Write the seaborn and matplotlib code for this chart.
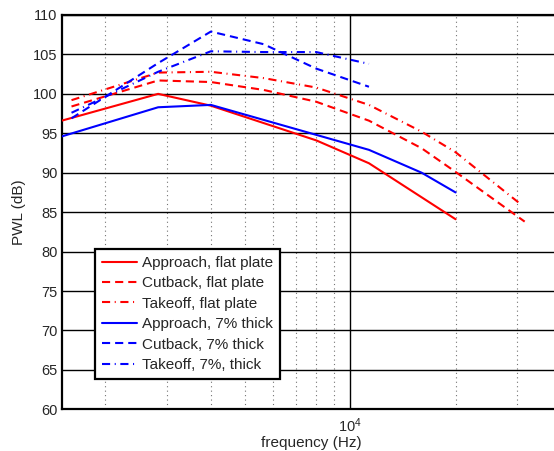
import numpy as np
import pandas as pd
import matplotlib
matplotlib.use("Agg")
import matplotlib.pyplot as plt
import seaborn as sns
from matplotlib.ticker import FixedLocator, NullFormatter

sns.set_style("white")
plt.rcParams['font.family'] = ['Liberation Sans', 'DejaVu Sans']
plt.rcParams['mathtext.fontset'] = 'custom'
plt.rcParams['mathtext.rm'] = 'Liberation Sans'
plt.rcParams['mathtext.it'] = 'Liberation Sans:italic'

# ---- data ----
approach_flat_f = [1500, 2828, 4000, 8000, 11314, 20000]
approach_flat_v = [96.6, 100.0, 98.5, 94.1, 91.2, 84.1]

cutback_flat_f = [1600, 2828, 4000, 5657, 8000, 11314, 16000, 20000, 31500]
cutback_flat_v = [98.4, 101.7, 101.5, 100.5, 99.0, 96.6, 93.1, 90.1, 83.8]

takeoff_flat_f = [1600, 2828, 4000, 5657, 8000, 11314, 16000, 20000, 30500]
takeoff_flat_v = [99.2, 102.7, 102.8, 102.0, 100.8, 98.6, 95.2, 92.6, 86.1]

approach_thick_f = [1500, 2828, 4000, 11314, 16000, 20000]
approach_thick_v = [94.6, 98.3, 98.6, 92.9, 90.0, 87.5]

cutback_thick_f = [1600, 2828, 4000, 5657, 8000, 11314]
cutback_thick_v = [96.9, 103.9, 107.9, 106.3, 103.2, 100.9]

takeoff_thick_f = [1600, 2828, 4000, 5657, 8000, 11314]
takeoff_thick_v = [97.6, 102.8, 105.4, 105.3, 105.3, 103.8]

labels = ["Approach, flat plate", "Cutback, flat plate", "Takeoff, flat plate",
          "Approach, 7% thick", "Cutback, 7% thick", "Takeoff, 7%, thick"]
colors = ["#ff0000", "#ff0000", "#ff0000", "#0000ff", "#0000ff", "#0000ff"]
styles = ["-", (0, (3.9, 2.4)), (0, (3.9, 2.2, 0.5, 2.2)),
          "-", (0, (3.9, 2.4)), (0, (3.9, 2.2, 0.5, 2.2))]

series_f = [approach_flat_f, cutback_flat_f, takeoff_flat_f,
            approach_thick_f, cutback_thick_f, takeoff_thick_f]
series_v = [approach_flat_v, cutback_flat_v, takeoff_flat_v,
            approach_thick_v, cutback_thick_v, takeoff_thick_v]

yticks = [60, 65, 70, 75, 80, 85, 90, 95, 100, 105, 110]

fig = plt.figure(figsize=(5.54, 4.51), dpi=100)
ax = fig.add_axes([61.7 / 554, (451 - 409.3) / 451, (561 - 61.7) / 554, (409.3 - 15) / 451])

for f, v, lab, c, ls in zip(series_f, series_v, labels, colors, styles):
    df = pd.DataFrame({"f": f, "v": v})
    sns.lineplot(data=df, x="f", y="v", ax=ax, color=c, linestyle=ls,
                 linewidth=1.5, label=lab, sort=False, estimator=None, zorder=3)

ax.set_xscale("log")
ax.set_xlim(1500, 40000)
ax.set_ylim(60, 110)

ax.set_yticks(yticks)
ax.set_yticklabels([str(t) for t in yticks], fontsize=10.5)
ax.xaxis.set_major_locator(FixedLocator([1e4]))
ax.set_xticklabels([r"$10^4$"], fontsize=10.5)
minor = [2000, 3000, 4000, 5000, 6000, 7000, 8000, 9000, 20000, 30000]
ax.xaxis.set_minor_locator(FixedLocator(minor))
ax.xaxis.set_minor_formatter(NullFormatter())

ax.grid(True, which="major", axis="both", color="black", linewidth=1.0, linestyle="-", zorder=1)
ax.grid(True, which="minor", axis="x", color="0.45", linewidth=0.8, linestyle=(0, (1, 3)), zorder=1)
ax.set_axisbelow(True)

ax.tick_params(axis="both", which="both", direction="in", length=4, color="black", pad=3)
ax.tick_params(axis="x", which="major", pad=5)
ax.tick_params(axis="x", which="minor", length=2.5)

for s in ax.spines.values():
    s.set_visible(True)
    s.set_color("black")
    s.set_linewidth(1.6)

ax.set_xlabel("frequency (Hz)", fontsize=11, labelpad=1)
ax.set_ylabel("PWL (dB)", fontsize=11, labelpad=5)

leg = ax.legend(loc="upper left", bbox_to_anchor=((95 - 61.7) / 499.3, (409.3 - 249) / 394.3),
                borderaxespad=0, fontsize=11, frameon=True, fancybox=False,
                framealpha=1, edgecolor="black", handlelength=2.3, handletextpad=0.35,
                labelspacing=0.42, borderpad=0.45)
leg.get_frame().set_linewidth(1.6)

fig.savefig("out.png", dpi=100)
